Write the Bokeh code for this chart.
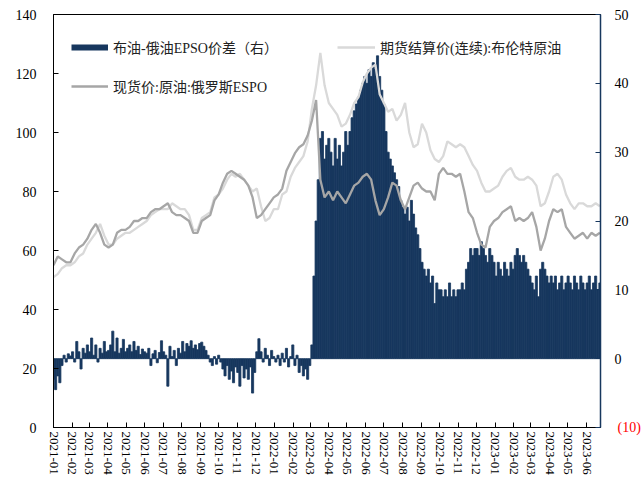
from datetime import datetime
import pandas as pd
from bokeh.plotting import figure
from bokeh.models import (Range1d, LinearAxis, FixedTicker, MonthsTicker,
                          DatetimeTickFormatter, Legend, LegendItem,
                          ColumnDataSource)
from bokeh.embed import file_html
from bokeh.resources import INLINE

# ---------------- data (weekly lines, left axis, USD/bbl) ----------------
brent_2021 = [51, 52, 54, 55, 55, 56, 58, 59, 62, 64, 66, 69, 65,
              62, 62, 64, 65, 66, 66, 67, 68, 69, 70, 72, 73, 74,
              74, 74, 76, 75, 74, 74, 72, 67, 67, 71, 72, 73, 78,
              79, 81, 84, 86, 85, 86, 84, 82, 80, 81, 75, 70, 71, 74]
brent_2022 = [74, 79, 80, 85, 88, 90, 92, 97, 108, 116, 127, 116,
              110, 108, 106, 102, 103, 106, 110, 112, 117, 120, 122, 123, 113,
              110, 107, 108, 104, 106, 110, 100, 95, 96, 103, 100, 94, 91, 90,
              92, 97, 96, 95, 96, 95, 92, 89, 87, 83, 80, 80, 81]
brent_2023 = [82, 85, 87, 88, 85, 84, 84, 85, 84, 82, 75, 76, 80,
              85, 86, 84, 79, 76, 74, 76, 76, 75, 75, 76, 75]

espo_2021 = [55, 58, 57, 56, 56, 59, 61, 62, 64, 67, 69, 66, 62,
             61, 62, 66, 67, 67, 68, 70, 70, 71, 71, 73, 74, 74,
             75, 76, 73, 72, 72, 71, 70, 66, 66, 70, 71, 72, 77,
             79, 83, 86, 87, 86, 85, 84, 82, 78, 71, 72, 74, 76, 78]
espo_2022 = [79, 81, 87, 90, 93, 95, 96, 99, 104, 111, 84, 78,
             80, 77, 80, 78, 76, 79, 82, 83, 85, 86, 84, 77, 72,
             74, 78, 83, 82, 77, 74, 78, 82, 83, 81, 80, 80, 77, 86,
             88, 86, 86, 85, 86, 80, 73, 71, 66, 62, 61, 68, 70]
espo_2023 = [71, 73, 74, 75, 70, 71, 70, 71, 73, 68, 60, 64, 70,
             74, 73, 74, 68, 66, 64, 65, 66, 64, 66, 65, 66]

# ---------------- data (spread bars, right axis, twice a week) ----------------
spread_2021 = [-3, -4.5, -2.5, -3.5, -1, 0.5, -0.5, 0.7, 0.4,
               1, -0.5, 2.5, 1, -1.5, 1.5, 0.8, 2,
               1, 3, 0.5, 2, -0.5, 1.5, 0.8, 2.5, 1,
               1.2, 2, 4, 1, 3, 0.8, 1.5, 2.8, 1,
               1.5, 2, 1, 2.5, 1.2, 1.8, 0.6, 1.4, 1,
               0.8, 1.5, -1, 0.7, 1.2, -0.6, 0.9, 2.6,
               1, 0.5, -4, 1.8, 0.3, 1.2, -1, 1.5, 0.8,
               2.5, 1, 2.2, 1.8, 2.6, 1.5, 2, 1.3, 2.2,
               2.4, 1.8, 1.2, 0.5, -0.5, -1, 0.3, -0.8,
               0.5, -0.5, -1.5, -2.5, -1, -3, -1.8, -3.5, -1.2,
               -2, -4, -1, -2.8, -1.5, -3, -1.2, -5, -2,
               1, 2.9, 1, -0.5, 1.5, 0.5, -1, 1.2, 0.3]
spread_2022 = [-0.5, 0.5, -1, 0.8, -0.5, 1.5, -1.2, 0.3, 2,
               -1, 0.5, -2, -1, -2.5, -1.5, -3, -1,
               2, 12, 20, 26, 32, 33, 29, 31,
               32, 30, 28, 32, 29, 31, 28, 30, 33,
               31, 33, 35, 36, 37, 38, 39, 40, 41,
               40, 42, 41, 43, 42, 44, 41, 39,
               37, 33, 30, 29, 28, 27, 26, 25, 23,
               22, 21, 22, 20, 23, 21, 19, 18, 16,
               14, 13, 12, 13, 11, 12, 8, 11, 10,
               10, 9, 10, 9, 11, 9, 10, 9, 10,
               10, 11, 10, 13, 14, 16, 15, 16,
               16, 15, 17, 16, 15, 14, 16, 15, 14]
spread_2023 = [12, 14, 13, 12, 14, 13, 12, 14, 13,
               15, 16, 15, 14, 15, 14, 13, 12,
               11, 10, 12, 9, 13, 14, 13, 12, 11,
               12, 11, 12, 10, 11, 12, 10, 11,
               12, 11, 10, 12, 11, 10, 12, 11, 10,
               11, 12, 10, 11, 12, 10, 11]

left_ticks = [0, 20, 40, 60, 80, 100, 120, 140]
right_ticks = [0, 10, 20, 30, 40, 50]
right_neg_tick = -10
right_neg_label = "(10)"

label_bar = "布油-俄油EPSO价差（右）"
label_brent = "期货结算价(连续):布伦特原油"
label_espo = "现货价:原油:俄罗斯ESPO"

brent = brent_2021 + brent_2022 + brent_2023
espo = espo_2021 + espo_2022 + espo_2023
spread = spread_2021 + spread_2022 + spread_2023

week_dates = pd.date_range("2021-01-01", periods=len(brent), freq="7D")
spread_dates = pd.date_range("2021-01-01", periods=len(spread), freq="84h")

# ---------------- styling ----------------
NAVY = "#17375E"
LIGHT = "#D9D9D9"
GRAY = "#A6A6A6"
SERIF = "Liberation Serif"
MIXED = "'Liberation Serif', 'Noto Sans CJK SC', sans-serif"

p = figure(width=644, height=477, x_axis_type="datetime",
           x_range=Range1d(datetime(2021, 1, 1), datetime(2023, 6, 24)),
           y_range=Range1d(0, 140),
           output_backend="svg", toolbar_location=None,
           min_border_left=53, min_border_right=44,
           min_border_top=14, min_border_bottom=50)
p.extra_y_ranges = {"right": Range1d(-10, 50)}
p.xgrid.visible = False
p.ygrid.visible = False
p.outline_line_color = "black"
p.outline_line_width = 1
p.background_fill_color = "white"
p.border_fill_color = "white"

# bars
src = ColumnDataSource(dict(date=spread_dates, spread=spread))
p.vbar(x="date", top="spread", bottom=0, width=3.5 * 86400000, source=src,
       y_range_name="right", fill_color=NAVY, line_color=NAVY, line_width=0.8)

brent_r = p.line(week_dates, brent, line_color=LIGHT, line_width=2.3)
espo_r = p.line(week_dates, espo, line_color=GRAY, line_width=2.3)
bar_key = p.line(x=[datetime(2021, 1, 1)], y=[float("nan")],
                 line_color=NAVY, line_width=6)

# x axis
xa = p.xaxis[0]
xa.ticker = MonthsTicker(months=list(range(12)))
xa.formatter = DatetimeTickFormatter(months="%Y-%m", days="%Y-%m", years="%Y-%m")
xa.major_label_orientation = "vertical"
xa.major_tick_in = 5
xa.major_tick_out = 0
xa.minor_tick_line_color = None
xa.axis_line_color = "black"
xa.major_tick_line_color = "black"
xa.major_label_standoff = 4
xa.major_label_text_font = SERIF
xa.major_label_text_font_size = "13px"
xa.major_label_text_color = "black"

# left axis
ya = p.yaxis[0]
ya.ticker = FixedTicker(ticks=left_ticks)
ya.major_tick_in = 5
ya.major_tick_out = 0
ya.minor_tick_line_color = None
ya.axis_line_color = "black"
ya.major_tick_line_color = "black"
ya.major_label_standoff = 17
ya.major_label_text_font = SERIF
ya.major_label_text_font_size = "14px"
ya.major_label_text_color = "black"

# right axis (black labels 0..50, tick also at -10)
ra = LinearAxis(y_range_name="right",
                ticker=FixedTicker(ticks=[right_neg_tick] + right_ticks),
                major_label_overrides={right_neg_tick: ""})
ra.major_tick_in = 5
ra.major_tick_out = 0
ra.minor_tick_line_color = None
ra.axis_line_color = NAVY
ra.axis_line_width = 1.5
ra.major_tick_line_color = NAVY
ra.major_label_standoff = 14
ra.major_label_text_font = SERIF
ra.major_label_text_font_size = "14px"
ra.major_label_text_color = "black"
p.add_layout(ra, "right")

# second right axis carrying only the red "(10)" label, pulled back onto the
# same label column with a negative standoff
ra2 = LinearAxis(y_range_name="right", ticker=FixedTicker(ticks=[right_neg_tick]),
                 major_label_overrides={right_neg_tick: right_neg_label})
ra2.axis_line_color = None
ra2.major_tick_line_color = None
ra2.minor_tick_line_color = None
ra2.major_tick_in = 0
ra2.major_tick_out = 0
ra2.major_label_standoff = -14
ra2.major_label_text_font = SERIF
ra2.major_label_text_font_size = "14px"
ra2.major_label_text_color = "#FF0000"
p.add_layout(ra2, "right")


def make_legend(label, renderer, vx, vy, gw):
    return Legend(items=[LegendItem(label=label, renderers=[renderer])],
                  location=(vx, vy), padding=0, margin=0, spacing=0,
                  glyph_width=gw, glyph_height=16, label_height=16,
                  label_standoff=5, label_text_font=MIXED,
                  label_text_font_size="14px", label_text_color="#222222",
                  border_line_color=None, background_fill_alpha=0)


p.add_layout(make_legend(label_bar, bar_key, 18, 370, 37))
p.add_layout(make_legend(label_brent, brent_r, 284, 370, 38))
p.add_layout(make_legend(label_espo, espo_r, 18, 331, 37))

open("out.html", "w").write(file_html(p, INLINE))
